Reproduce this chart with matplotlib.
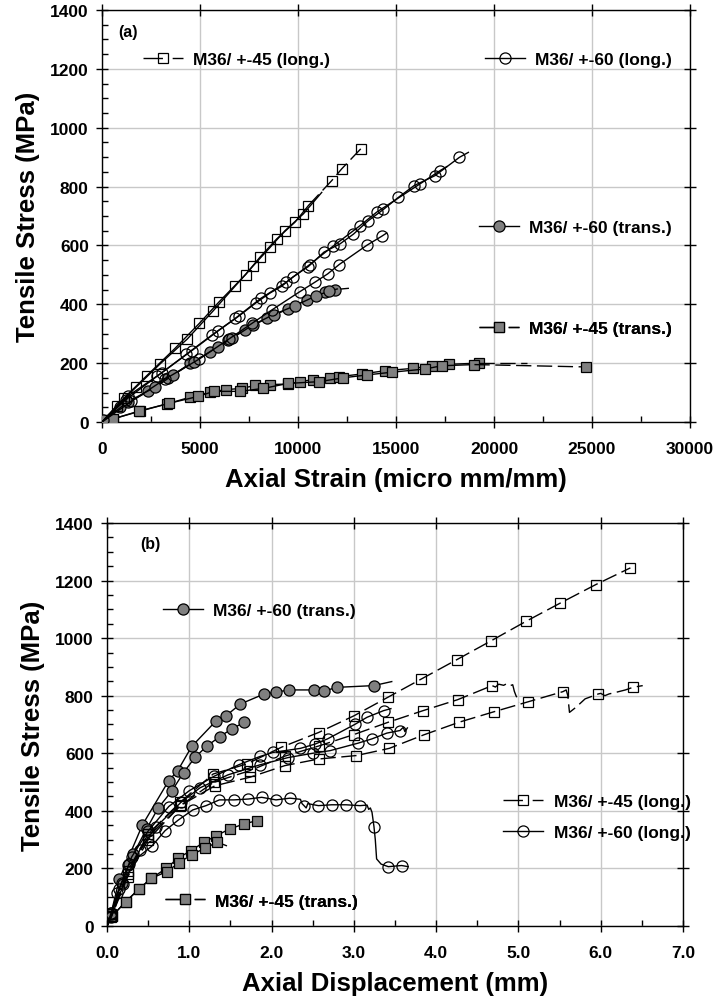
import matplotlib
matplotlib.use("Agg")
import matplotlib.pyplot as plt
from matplotlib.lines import Line2D
from matplotlib.ticker import MultipleLocator, FormatStrFormatter

plt.rcParams['font.family'] = ['Liberation Sans', 'DejaVu Sans']
plt.rcParams['font.weight'] = 'bold'

# ---------------- panel (a): stress vs axial strain ----------------
# M36/ +-45 (long.)  open squares
a45L1_x = [0, 748, 1734, 2958, 4352, 5678, 6783, 7718, 8571, 9337, 10271, 11209]
a45L1_y = [0, 55, 118, 197, 282, 378, 461, 531, 593, 650, 707, 780]
a45L2_x = [0, 1100, 2278, 3723, 4964, 5984, 7327, 8058, 8912, 9847, 10526, 11718, 12228, 13200]
a45L2_y = [0, 80, 157, 250, 335, 409, 501, 560, 622, 679, 735, 820, 860, 928]
# M36/ +-60 (long.)  open circles
a60L1_x = [0, 1343, 3043, 4573, 5933, 7004, 7837, 8568, 9163, 9724, 10523, 11322, 12138,
           12823, 13588, 14354, 15119, 15918, 16990, 18230, 18690]
a60L1_y = [0, 89, 167, 242, 310, 361, 404, 438, 461, 492, 528, 577, 605,
           638, 684, 722, 763, 803, 837, 899, 916]
a60L2_x = [0, 1200, 2800, 4300, 5600, 6800, 8100, 9400, 10600, 11800, 13163, 14014, 16224, 17245, 17600]
a60L2_y = [0, 75, 155, 230, 295, 352, 420, 475, 535, 598, 667, 713, 809, 854, 868]
a60L3_x = [0, 1500, 3200, 4964, 6500, 7650, 8650, 10098, 10863, 11509, 12100, 13503, 14269, 14524]
a60L3_y = [0, 70, 145, 214, 283, 335, 380, 443, 475, 503, 535, 600, 631, 642]
# M36/ +-60 (trans.)  filled circles
a60T1_x = [68, 918, 2363, 3383, 4488, 5508, 6443, 7293, 8398, 9503, 10438, 11373, 11883, 12563]
a60T1_y = [8, 50, 104, 148, 199, 237, 279, 313, 352, 384, 415, 441, 450, 454]
a60T2_x = [0, 1300, 2700, 3600, 4700, 5900, 6650, 7700, 8750, 9850, 10900, 11600, 12000]
a60T2_y = [0, 68, 118, 158, 205, 255, 285, 330, 365, 395, 428, 445, 452]
# M36/ +-45 (trans.)  filled squares
a45T1_x = [68, 544, 1938, 3298, 4488, 5508, 6324, 7123, 7803, 8568, 9503, 10098, 10778,
           11628, 12104, 13243, 14433, 15851, 16820, 17722, 19252, 21667]
a45T1_y = [5, 10, 38, 61, 84, 101, 110, 114, 124, 127, 129, 137, 144,
           150, 154, 163, 174, 182, 191, 196, 200, 200]
a45T2_x = [68, 544, 1900, 3400, 4913, 5700, 7038, 8228, 9500, 11084, 12308, 13537, 14779,
           16480, 17330, 19000, 24693]
a45T2_y = [5, 10, 36, 63, 87, 104, 104, 114, 131, 137, 150, 160, 169,
           180, 191, 195, 187]

# ---------------- panel (b): stress vs axial displacement ----------------
# M36/ +-60 (trans.)  filled circles
b60T1_x = [0, 0.05, 0.15, 0.43, 0.75, 0.86, 1.03, 1.32, 1.45, 1.62, 1.91, 2.05, 2.21, 2.51, 2.64, 2.80, 3.24, 3.46]
b60T1_y = [0, 45, 163, 351, 505, 540, 624, 711, 731, 771, 806, 812, 820, 820, 817, 829, 835, 849]
b60T2_x = [0, 0.05, 0.18, 0.26, 0.32, 0.48, 0.62, 0.79, 0.93, 1.07, 1.21, 1.37, 1.52, 1.67]
b60T2_y = [0, 45, 150, 212, 250, 337, 409, 470, 533, 586, 624, 658, 685, 708]
# M36/ +-45 (trans.)  filled squares
b45T1_x = [0, 0.06, 0.23, 0.39, 0.54, 0.72, 0.86, 1.02, 1.18, 1.33, 1.49, 1.66, 1.82]
b45T1_y = [0, 34, 85, 129, 166, 200, 235, 262, 291, 314, 337, 354, 366]
b45T2_x = [0, 0.06, 0.23, 0.39, 0.54, 0.73, 0.87, 1.03, 1.19, 1.34, 1.45]
b45T2_y = [0, 34, 85, 129, 166, 189, 219, 248, 270, 291, 279]
# M36/ +-45 (long.)  open squares, dashed
b45L1_x = [0, 0.05, 0.25, 0.5, 0.89, 1.29, 1.70, 2.12, 2.57, 3.00, 3.41, 3.82, 4.25, 4.67, 5.09, 5.51, 5.94, 6.36]
b45L1_y = [0, 40, 190, 320, 430, 528, 563, 621, 672, 730, 794, 858, 925, 991, 1058, 1122, 1186, 1244]
b45L2_x = [0, 0.05, 0.25, 0.5, 0.9, 1.3, 1.74, 2.16, 2.57, 3.0, 3.42, 3.84, 4.26, 4.68,
           4.72, 4.76, 4.82, 4.86, 4.90, 4.93, 4.95, 4.97, 5.01]
b45L2_y = [0, 35, 180, 310, 420, 500, 540, 590, 625, 665, 708, 748, 786, 835,
           830, 840, 836, 842, 835, 838, 815, 800, 777]
b45L2_mk = [1, 2, 3, 4, 5, 6, 7, 8, 9, 10, 11, 12, 13]
b45L3_x = [0, 0.05, 0.25, 0.5, 0.89, 1.31, 1.74, 2.16, 2.57, 3.03, 3.43, 3.85, 4.28, 4.70, 5.12, 5.54,
           5.58, 5.60, 5.61, 5.62, 5.70, 5.81, 5.97, 6.00, 6.05, 6.10, 6.19, 6.30, 6.39, 6.45, 6.51]
b45L3_y = [0, 30, 170, 300, 418, 487, 517, 557, 580, 592, 617, 664, 708, 744, 779, 814,
           820, 800, 770, 742, 760, 789, 806, 808, 800, 806, 812, 820, 829, 832, 835]
b45L3_mk = [1, 2, 3, 4, 5, 6, 7, 8, 9, 10, 11, 12, 13, 14, 15, 22, 28]
# M36/ +-60 (long.)  open circles
b60L1_x = [0, 0.05, 0.15, 0.3, 0.5, 0.75, 1.0, 1.3, 1.6, 1.86, 2.02, 2.35, 2.53, 2.68, 3.01, 3.16, 3.36, 3.45]
b60L1_y = [0, 40, 130, 240, 330, 415, 470, 520, 560, 589, 603, 617, 632, 650, 700, 725, 748, 755]
b60L2_x = [0, 0.05, 0.2, 0.4, 0.6, 0.9, 1.13, 1.47, 1.86, 2.2, 2.5, 2.71, 3.05, 3.22, 3.4, 3.56,
           3.60, 3.62, 3.65]
b60L2_y = [0, 30, 145, 265, 345, 430, 480, 525, 560, 585, 600, 609, 635, 650, 670, 679,
           690, 675, 688]
b60L2_mk = list(range(1, 16))
b60L3_x = [0, 0.126, 0.27, 0.543, 0.705, 0.866, 1.041, 1.203, 1.365, 1.543, 1.717, 1.88, 2.053, 2.223,
           2.35, 2.37, 2.394, 2.42, 2.44, 2.568, 2.73, 2.904, 3.074, 3.16, 3.18, 3.2, 3.22, 3.244,
           3.26, 3.276, 3.3, 3.33, 3.418, 3.58, 3.66]
b60L3_y = [0, 115, 215, 277, 331, 368, 403, 418, 438, 438, 441, 447, 438, 444,
           440, 425, 418, 410, 425, 418, 421, 421, 418, 420, 405, 410, 395, 345,
           300, 233, 225, 215, 206, 210, 206]
b60L3_mk = [1, 2, 3, 4, 5, 6, 7, 8, 9, 10, 11, 12, 13, 16, 19, 20, 21, 22, 27, 32, 33]

GRAY = '#808080'
DASH45 = (11, 4)
BIG = 18.5
TICK = 12.5
KEY = 12.5


def curva(ax, x, y, marker, fill, dashed=False, markevery=None, ms=7):
    kw = dict(color='k', lw=1.0, marker=marker, ms=ms, mec='k', mew=0.9,
              mfc=fill, zorder=3)
    if markevery is not None:
        kw['markevery'] = markevery
    line, = ax.plot(x, y, **kw)
    if dashed:
        line.set_dashes(DASH45)
    return line


def cola(ax, x, y, desde):
    # tramo final discontinuo (sin marcadores) de un ensayo
    line, = ax.plot(x[desde:], y[desde:], color='k', lw=1.0, zorder=3)
    line.set_dashes(DASH45)


def clave(ax, marker, fill, dashed, texto, fx, fy, ms=7):
    h = Line2D([], [], color='k', lw=1.0, marker=marker, ms=ms, mec='k', mew=0.9, mfc=fill)
    if dashed:
        h.set_dashes((14, 7, 8, 10))
    leg = ax.legend([h], [texto], loc='center left', bbox_to_anchor=(fx, fy),
                    frameon=False, borderpad=0, borderaxespad=0, handlelength=2.3,
                    handletextpad=0.6, numpoints=1,
                    prop=dict(size=KEY, weight='bold'))
    ax.add_artist(leg)


def ejes(ax):
    ax.set_ylim(0, 1400)
    ax.yaxis.set_major_locator(MultipleLocator(200))
    ax.yaxis.set_minor_locator(MultipleLocator(50))
    ax.grid(True, which='major', color='#c8c8c8', lw=1.0, zorder=0)
    ax.set_axisbelow(True)
    ax.tick_params(which='major', direction='inout', length=9, width=1.0,
                   top=True, right=True, labelsize=TICK)
    ax.tick_params(which='minor', direction='in', length=4, width=1.0,
                   top=False, right=False)
    ax.tick_params(axis='x', which='major', pad=9)
    ax.tick_params(axis='y', which='major', pad=5)
    for s in ax.spines.values():
        s.set_linewidth(1.0)
    for lab in ax.get_xticklabels() + ax.get_yticklabels():
        lab.set_fontweight('bold')
    ax.set_ylabel('Tensile Stress (MPa)', fontsize=BIG, fontweight='bold', labelpad=7)


fig = plt.figure(figsize=(7.15, 10.03), dpi=100)
ax1 = fig.add_axes([0.1427, 0.5783, 0.8224, 0.4108])
ax2 = fig.add_axes([0.1497, 0.0758, 0.8056, 0.4018])

# ---- (a)
ax1.set_xlim(0, 30000)
ax1.xaxis.set_major_locator(MultipleLocator(5000))
ax1.xaxis.set_minor_locator(MultipleLocator(2500))
curva(ax1, a45T1_x[:-1], a45T1_y[:-1], 's', GRAY)
cola(ax1, a45T1_x, a45T1_y, -2)
curva(ax1, a45T2_x[:-1], a45T2_y[:-1], 's', GRAY)
cola(ax1, a45T2_x, a45T2_y, -2)
ax1.plot(a45T2_x[-1:], a45T2_y[-1:], ls='none', marker='s', ms=7, mec='k', mew=0.9,
         mfc=GRAY, zorder=3)
curva(ax1, a60T1_x, a60T1_y, 'o', GRAY, markevery=list(range(len(a60T1_x) - 1)), ms=8)
curva(ax1, a60T2_x, a60T2_y, 'o', GRAY, markevery=list(range(1, len(a60T2_x) - 1)), ms=8)
curva(ax1, a60L1_x, a60L1_y, 'o', 'none', markevery=list(range(1, len(a60L1_x) - 1)), ms=8)
curva(ax1, a60L2_x, a60L2_y, 'o', 'none', markevery=list(range(1, len(a60L2_x) - 1)), ms=8)
curva(ax1, a60L3_x, a60L3_y, 'o', 'none', markevery=list(range(1, len(a60L3_x) - 1)), ms=8)
curva(ax1, a45L1_x, a45L1_y, 's', 'none', markevery=list(range(1, len(a45L1_x) - 1)))
curva(ax1, a45L2_x[:11], a45L2_y[:11], 's', 'none', markevery=list(range(1, 11)))
curva(ax1, a45L2_x[10:], a45L2_y[10:], 's', 'none', dashed=True,
      markevery=list(range(1, len(a45L2_x) - 10)))
ejes(ax1)
ax1.set_xlabel('Axial Strain (micro mm/mm)', fontsize=BIG, fontweight='bold', labelpad=8)
ax1.text(0.044, 0.947, '(a)', transform=ax1.transAxes, fontsize=11.5,
         fontweight='bold', ha='center', va='center')
clave(ax1, 's', 'none', True, 'M36/ +-45 (long.)', 0.0697, 0.879)
clave(ax1, 'o', 'none', False, 'M36/ +-60 (long.)', 0.651, 0.879, ms=8)
clave(ax1, 'o', GRAY, False, 'M36/ +-60 (trans.)', 0.641, 0.473, ms=8)
clave(ax1, 's', GRAY, True, 'M36/ +-45 (trans.)', 0.641, 0.228)

# ---- (b)
ax2.set_xlim(0, 7)
ax2.xaxis.set_major_locator(MultipleLocator(1.0))
ax2.xaxis.set_minor_locator(MultipleLocator(0.5))
ax2.xaxis.set_major_formatter(FormatStrFormatter('%.1f'))
curva(ax2, b45T1_x, b45T1_y, 's', GRAY, markevery=list(range(1, len(b45T1_x))))
curva(ax2, b45T2_x, b45T2_y, 's', GRAY, markevery=list(range(1, len(b45T2_x) - 1)))
curva(ax2, b60T1_x, b60T1_y, 'o', GRAY, markevery=list(range(1, len(b60T1_x) - 1)), ms=8)
curva(ax2, b60T2_x, b60T2_y, 'o', GRAY, markevery=list(range(1, len(b60T2_x))), ms=8)
curva(ax2, b60L1_x, b60L1_y, 'o', 'none', markevery=list(range(1, len(b60L1_x) - 1)), ms=8)
curva(ax2, b60L2_x, b60L2_y, 'o', 'none', markevery=b60L2_mk, ms=8)
curva(ax2, b60L3_x, b60L3_y, 'o', 'none', markevery=b60L3_mk, ms=8)
curva(ax2, b45L1_x, b45L1_y, 's', 'none', dashed=True, markevery=list(range(1, len(b45L1_x))))
curva(ax2, b45L2_x, b45L2_y, 's', 'none', dashed=True, markevery=b45L2_mk)
curva(ax2, b45L3_x, b45L3_y, 's', 'none', dashed=True, markevery=b45L3_mk)
ejes(ax2)
ax2.set_xlabel('Axial Displacement (mm)', fontsize=BIG, fontweight='bold', labelpad=8)
ax2.text(0.075, 0.948, '(b)', transform=ax2.transAxes, fontsize=11.5,
         fontweight='bold', ha='center', va='center')
clave(ax2, 'o', GRAY, False, 'M36/ +-60 (trans.)', 0.0972, 0.782, ms=8)
clave(ax2, 's', 'none', True, 'M36/ +-45 (long.)', 0.688, 0.31)
clave(ax2, 'o', 'none', False, 'M36/ +-60 (long.)', 0.688, 0.233, ms=8)
clave(ax2, 's', GRAY, True, 'M36/ +-45 (trans.)', 0.1007, 0.062)

fig.savefig('out.png', dpi=100)
